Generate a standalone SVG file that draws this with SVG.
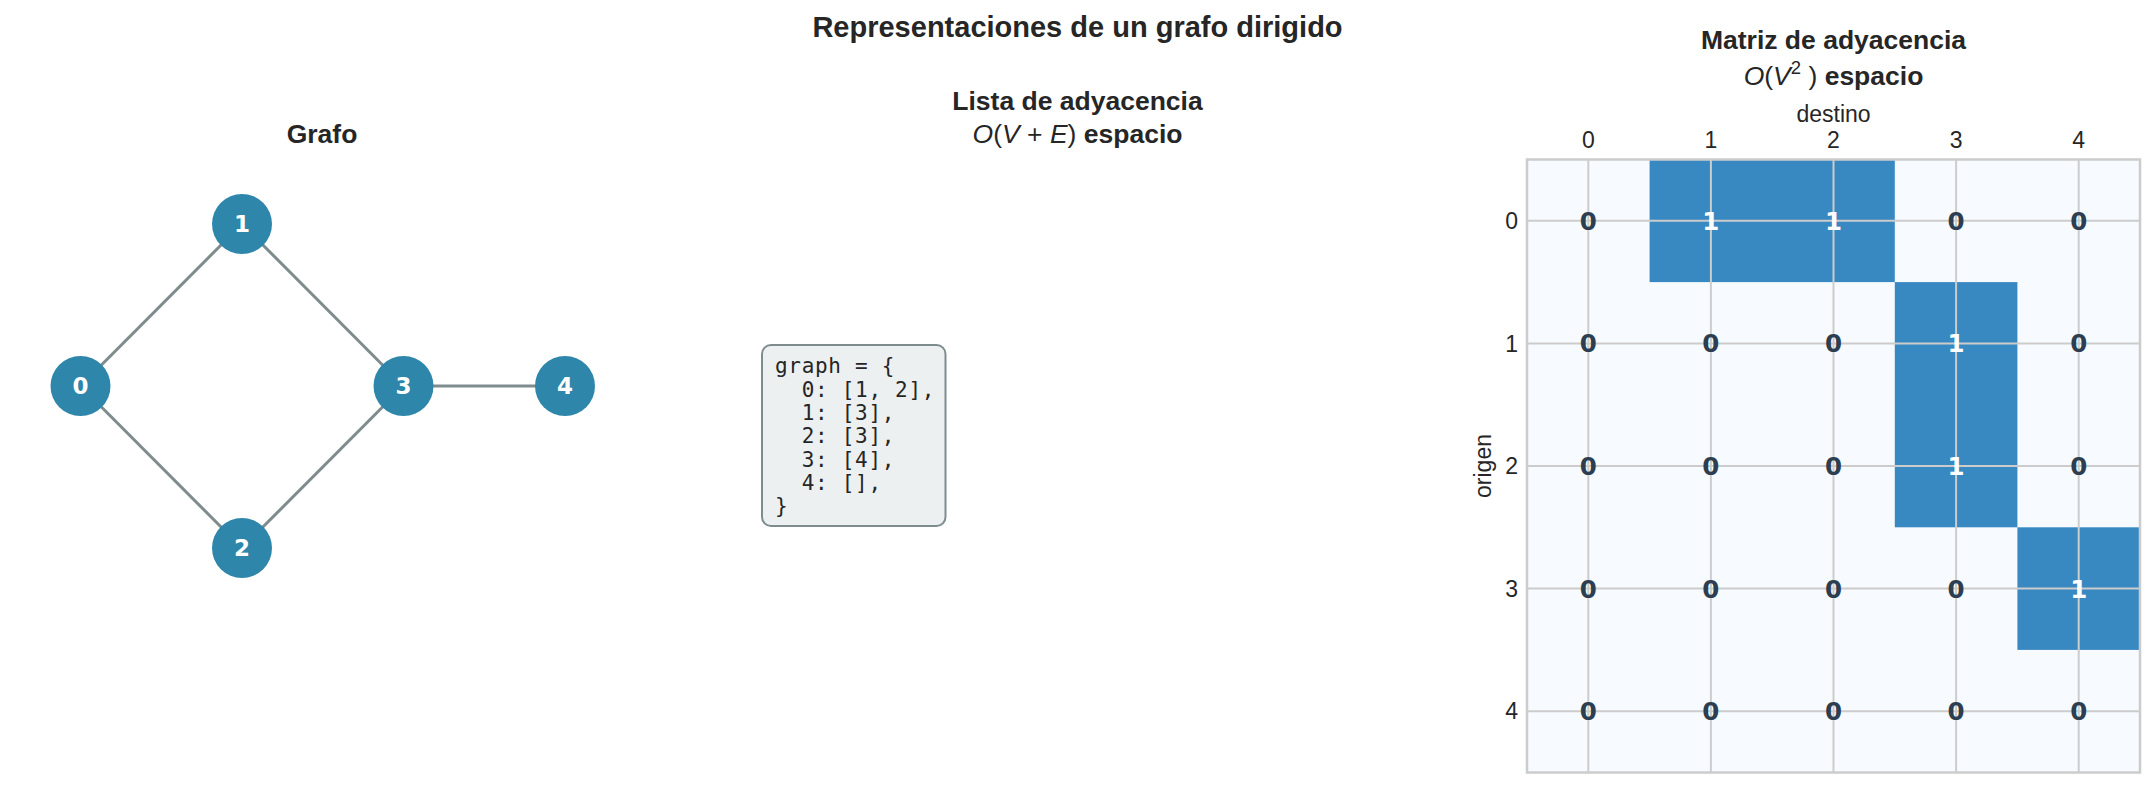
<svg xmlns="http://www.w3.org/2000/svg" width="2155" height="789" viewBox="0 0 2155 789">
<style>
  .ttl{font-family:"Liberation Sans",Arial,sans-serif;font-weight:bold;fill:#262626;text-anchor:middle}
  .math{font-family:"Liberation Sans",Arial,sans-serif;font-weight:normal}
  .it{font-style:italic}
  .tick{font-family:"Liberation Sans",Arial,sans-serif;font-size:23px;fill:#262626}
  .edge{stroke:#7f8c8d;stroke-width:3;fill:none}
  .node circle{fill:#2e86ab}
  .node text{font-family:"DejaVu Sans",sans-serif;font-weight:bold;font-size:23px;fill:#ffffff;text-anchor:middle}
  .code{font-family:"DejaVu Sans Mono",monospace;font-size:21px;letter-spacing:0.7px;fill:#262626}
  .grid{stroke:#cccccc;stroke-width:2}
  .cell{font-family:"DejaVu Sans",sans-serif;font-weight:bold;font-size:24.5px;text-anchor:middle}
  .z{fill:#2c3e50}
  .o{fill:#ffffff}
  .on{fill:#3888c1}
</style>
<rect width="2155" height="789" fill="#ffffff"/>
<text class="ttl" x="1077.5" y="37" font-size="29">Representaciones de un grafo dirigido</text>

<!-- Graph panel -->
<text class="ttl" x="322" y="143" font-size="26.5">Grafo</text>
<g id="connectors">
  <line class="edge" x1="80.5" y1="386" x2="242" y2="224"/>
  <line class="edge" x1="80.5" y1="386" x2="242" y2="548"/>
  <line class="edge" x1="242" y1="224" x2="403.5" y2="386"/>
  <line class="edge" x1="242" y1="548" x2="403.5" y2="386"/>
  <line class="edge" x1="403.5" y1="386" x2="565" y2="386"/>
</g>
<g id="node0" class="node"><circle cx="80.5" cy="386" r="30"/><text x="80.5" y="394.4">0</text></g>
<g id="node1" class="node"><circle cx="242" cy="224" r="30"/><text x="242" y="232.4">1</text></g>
<g id="node2" class="node"><circle cx="242" cy="548" r="30"/><text x="242" y="556.4">2</text></g>
<g id="node3" class="node"><circle cx="403.5" cy="386" r="30"/><text x="403.5" y="394.4">3</text></g>
<g id="node4" class="node"><circle cx="565" cy="386" r="30"/><text x="565" y="394.4">4</text></g>

<!-- Adjacency list panel -->
<text class="ttl" x="1077.5" y="110" font-size="26.5">Lista de adyacencia</text>
<text class="ttl" x="1077.5" y="142.5" font-size="26.5"><tspan class="math it">O</tspan><tspan class="math">(</tspan><tspan class="math it">V</tspan><tspan class="math"> + </tspan><tspan class="math it">E</tspan><tspan class="math">)</tspan> espacio</text>
<g id="adjlist">
  <rect x="762" y="345" width="183.5" height="181" rx="9" fill="#ecf0f1" stroke="#7f8c8d" stroke-width="2"/>
  <text class="code" xml:space="preserve" x="775" y="373.3">graph = {</text>
  <text class="code" xml:space="preserve" x="775" y="396.6">  0: [1, 2],</text>
  <text class="code" xml:space="preserve" x="775" y="419.9">  1: [3],</text>
  <text class="code" xml:space="preserve" x="775" y="443.2">  2: [3],</text>
  <text class="code" xml:space="preserve" x="775" y="466.5">  3: [4],</text>
  <text class="code" xml:space="preserve" x="775" y="489.8">  4: [],</text>
  <text class="code" xml:space="preserve" x="775" y="513.1">}</text>
</g>

<!-- Matrix panel -->
<text class="ttl" x="1833.5" y="49" font-size="26.5">Matriz de adyacencia</text>
<text class="ttl" x="1833.5" y="85" font-size="26.5"><tspan class="math it">O</tspan><tspan class="math">(</tspan><tspan class="math it">V</tspan><tspan class="math" font-size="18.5" dy="-11">2</tspan><tspan class="math" dy="11"> )</tspan> espacio</text>
<text class="tick" x="1833.5" y="121.5" text-anchor="middle">destino</text>
<g id="xticks" class="tick" text-anchor="middle">
  <text x="1588.3" y="147.5">0</text>
  <text x="1710.9" y="147.5">1</text>
  <text x="1833.5" y="147.5">2</text>
  <text x="1956.1" y="147.5">3</text>
  <text x="2078.7" y="147.5">4</text>
</g>
<g id="yticks" class="tick" text-anchor="end">
  <text x="1518" y="229">0</text>
  <text x="1518" y="351.6">1</text>
  <text x="1518" y="474.2">2</text>
  <text x="1518" y="596.8">3</text>
  <text x="1518" y="719.4">4</text>
</g>
<text class="tick" x="1491" y="466" text-anchor="middle" transform="rotate(-90 1491 466)">origen</text>
<g id="matrix">
  <rect x="1527" y="159.5" width="613" height="613" fill="#f7fbff"/>
  <rect class="on" x="1649.6" y="159.5" width="245.2" height="122.6"/>
  <rect class="on" x="1894.8" y="282.1" width="122.6" height="245.2"/>
  <rect class="on" x="2017.4" y="527.3" width="122.6" height="122.6"/>
  <line class="grid" x1="1588.3" y1="159.5" x2="1588.3" y2="772.5"/>
  <line class="grid" x1="1710.9" y1="159.5" x2="1710.9" y2="772.5"/>
  <line class="grid" x1="1833.5" y1="159.5" x2="1833.5" y2="772.5"/>
  <line class="grid" x1="1956.1" y1="159.5" x2="1956.1" y2="772.5"/>
  <line class="grid" x1="2078.7" y1="159.5" x2="2078.7" y2="772.5"/>
  <line class="grid" x1="1527" y1="220.8" x2="2140" y2="220.8"/>
  <line class="grid" x1="1527" y1="343.4" x2="2140" y2="343.4"/>
  <line class="grid" x1="1527" y1="466" x2="2140" y2="466"/>
  <line class="grid" x1="1527" y1="588.6" x2="2140" y2="588.6"/>
  <line class="grid" x1="1527" y1="711.2" x2="2140" y2="711.2"/>
  <rect x="1527" y="159.5" width="613" height="613" fill="none" stroke="#cccccc" stroke-width="2.5"/>
  <g class="cell">
    <text class="z" x="1588.3" y="229.7">0</text><text class="o" x="1710.9" y="229.7">1</text><text class="o" x="1833.5" y="229.7">1</text><text class="z" x="1956.1" y="229.7">0</text><text class="z" x="2078.7" y="229.7">0</text>
    <text class="z" x="1588.3" y="352.3">0</text><text class="z" x="1710.9" y="352.3">0</text><text class="z" x="1833.5" y="352.3">0</text><text class="o" x="1956.1" y="352.3">1</text><text class="z" x="2078.7" y="352.3">0</text>
    <text class="z" x="1588.3" y="474.9">0</text><text class="z" x="1710.9" y="474.9">0</text><text class="z" x="1833.5" y="474.9">0</text><text class="o" x="1956.1" y="474.9">1</text><text class="z" x="2078.7" y="474.9">0</text>
    <text class="z" x="1588.3" y="597.5">0</text><text class="z" x="1710.9" y="597.5">0</text><text class="z" x="1833.5" y="597.5">0</text><text class="z" x="1956.1" y="597.5">0</text><text class="o" x="2078.7" y="597.5">1</text>
    <text class="z" x="1588.3" y="720.1">0</text><text class="z" x="1710.9" y="720.1">0</text><text class="z" x="1833.5" y="720.1">0</text><text class="z" x="1956.1" y="720.1">0</text><text class="z" x="2078.7" y="720.1">0</text>
  </g>
</g>
</svg>
